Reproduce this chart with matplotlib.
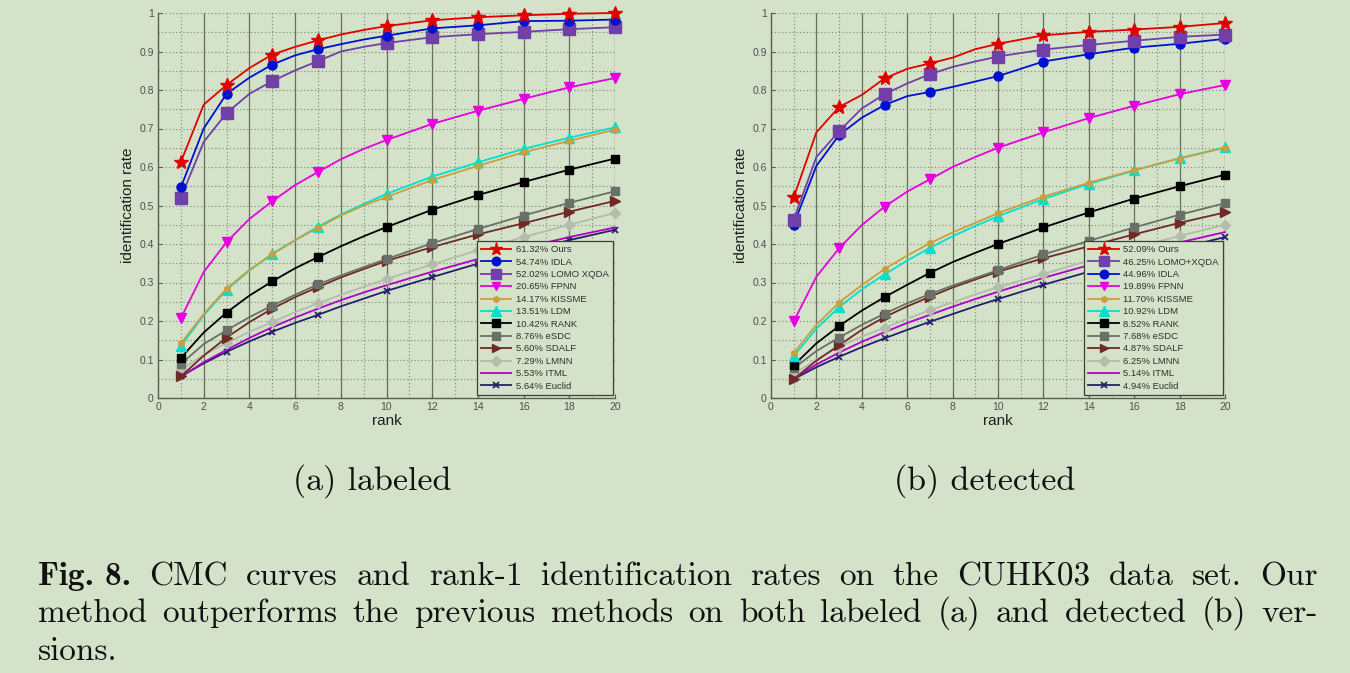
import matplotlib
matplotlib.use("Agg")
import matplotlib.pyplot as plt

# ---------------- data ----------------
ranks = [1, 2, 3, 4, 5, 6, 7, 8, 9, 10, 12, 14, 16, 18, 20]
marker_ranks = [1, 3, 5, 7, 10, 12, 14, 16, 18, 20]

# (a) labeled
ours_a   = [0.613, 0.762, 0.813, 0.857, 0.892, 0.912, 0.929, 0.944, 0.956, 0.966, 0.981, 0.989, 0.994, 0.998, 1.000]
idla_a   = [0.547, 0.700, 0.790, 0.832, 0.866, 0.890, 0.906, 0.919, 0.931, 0.941, 0.960, 0.968, 0.979, 0.980, 0.983]
lomo_a   = [0.520, 0.665, 0.740, 0.790, 0.823, 0.851, 0.875, 0.900, 0.912, 0.922, 0.937, 0.945, 0.951, 0.958, 0.963]
fpnn_a   = [0.207, 0.327, 0.405, 0.465, 0.511, 0.553, 0.587, 0.620, 0.647, 0.670, 0.712, 0.746, 0.777, 0.807, 0.831]
kissme_a = [0.142, 0.218, 0.284, 0.333, 0.373, 0.410, 0.442, 0.474, 0.500, 0.522, 0.566, 0.603, 0.638, 0.668, 0.697]
ldm_a    = [0.135, 0.215, 0.281, 0.331, 0.375, 0.410, 0.445, 0.476, 0.504, 0.530, 0.575, 0.612, 0.647, 0.676, 0.703]
rank_a   = [0.104, 0.170, 0.222, 0.266, 0.303, 0.337, 0.366, 0.394, 0.420, 0.444, 0.489, 0.527, 0.561, 0.593, 0.622]
esdc_a   = [0.088, 0.140, 0.176, 0.210, 0.240, 0.268, 0.295, 0.318, 0.340, 0.361, 0.402, 0.439, 0.474, 0.507, 0.537]
sdalf_a  = [0.056, 0.110, 0.157, 0.197, 0.232, 0.262, 0.288, 0.313, 0.335, 0.356, 0.392, 0.425, 0.454, 0.484, 0.512]
lmnn_a   = [0.073, 0.112, 0.143, 0.172, 0.197, 0.223, 0.246, 0.268, 0.289, 0.309, 0.347, 0.384, 0.418, 0.450, 0.481]
itml_a   = [0.055, 0.093, 0.125, 0.156, 0.184, 0.209, 0.232, 0.254, 0.274, 0.293, 0.328, 0.361, 0.390, 0.418, 0.443]
eucl_a   = [0.056, 0.090, 0.120, 0.147, 0.172, 0.195, 0.216, 0.238, 0.258, 0.278, 0.314, 0.349, 0.380, 0.410, 0.437]

# (b) detected
ours_b   = [0.521, 0.690, 0.756, 0.787, 0.830, 0.855, 0.869, 0.884, 0.906, 0.920, 0.942, 0.951, 0.957, 0.964, 0.974]
lomo_b   = [0.463, 0.626, 0.693, 0.752, 0.789, 0.817, 0.841, 0.860, 0.874, 0.887, 0.905, 0.917, 0.928, 0.938, 0.944]
idla_b   = [0.450, 0.603, 0.683, 0.728, 0.761, 0.784, 0.795, 0.808, 0.822, 0.836, 0.874, 0.893, 0.910, 0.920, 0.933]
fpnn_b   = [0.199, 0.315, 0.389, 0.449, 0.497, 0.536, 0.568, 0.600, 0.626, 0.650, 0.690, 0.727, 0.759, 0.789, 0.813]
kissme_b = [0.117, 0.190, 0.248, 0.293, 0.335, 0.370, 0.402, 0.430, 0.455, 0.480, 0.523, 0.559, 0.592, 0.622, 0.650]
ldm_b    = [0.109, 0.180, 0.236, 0.282, 0.321, 0.357, 0.390, 0.420, 0.447, 0.472, 0.517, 0.556, 0.591, 0.623, 0.651]
rank_b   = [0.085, 0.142, 0.187, 0.227, 0.262, 0.294, 0.325, 0.353, 0.377, 0.400, 0.443, 0.482, 0.518, 0.550, 0.580]
esdc_b   = [0.077, 0.122, 0.157, 0.190, 0.219, 0.246, 0.270, 0.292, 0.312, 0.332, 0.373, 0.408, 0.443, 0.476, 0.506]
sdalf_b  = [0.049, 0.097, 0.137, 0.177, 0.210, 0.238, 0.263, 0.287, 0.308, 0.328, 0.363, 0.394, 0.425, 0.455, 0.482]
lmnn_b   = [0.062, 0.100, 0.133, 0.160, 0.182, 0.206, 0.228, 0.249, 0.269, 0.288, 0.322, 0.357, 0.390, 0.421, 0.450]
itml_b   = [0.051, 0.087, 0.118, 0.146, 0.171, 0.195, 0.216, 0.237, 0.257, 0.276, 0.312, 0.345, 0.375, 0.404, 0.431]
eucl_b   = [0.049, 0.080, 0.107, 0.132, 0.155, 0.177, 0.198, 0.218, 0.238, 0.257, 0.294, 0.328, 0.360, 0.389, 0.418]

labels_a = ["61.32% Ours", "54.74% IDLA", "52.02% LOMO XQDA", "20.65% FPNN", "14.17% KISSME",
            "13.51% LDM", "10.42% RANK", "8.76% eSDC", "5.60% SDALF", "7.29% LMNN",
            "5.53% ITML", "5.64% Euclid"]
labels_b = ["52.09% Ours", "46.25% LOMO+XQDA", "44.96% IDLA", "19.89% FPNN", "11.70% KISSME",
            "10.92% LDM", "8.52% RANK", "7.68% eSDC", "4.87% SDALF", "6.25% LMNN",
            "5.14% ITML", "4.94% Euclid"]

series_a = [ours_a, idla_a, lomo_a, fpnn_a, kissme_a, ldm_a, rank_a, esdc_a, sdalf_a, lmnn_a, itml_a, eucl_a]
series_b = [ours_b, lomo_b, idla_b, fpnn_b, kissme_b, ldm_b, rank_b, esdc_b, sdalf_b, lmnn_b, itml_b, eucl_b]

# styles per method
STY = {
    "Ours":   dict(color="#e00000", marker="*", ms=10),
    "IDLA":   dict(color="#0010d0", marker="o", ms=6.5),
    "LOMO":   dict(color="#7040a8", marker="s", ms=8),
    "FPNN":   dict(color="#e600e0", marker="v", ms=6.5),
    "KISSME": dict(color="#c8a040", marker="h", ms=4.5),
    "LDM":    dict(color="#00e0d0", marker="^", ms=7),
    "RANK":   dict(color="#000000", marker="s", ms=6),
    "eSDC":   dict(color="#687068", marker="s", ms=6),
    "SDALF":  dict(color="#702828", marker=">", ms=6.5),
    "LMNN":   dict(color="#b4bcac", marker="D", ms=5.5),
    "ITML":   dict(color="#b000c8", marker=None, ms=0),
    "Euclid": dict(color="#281e6e", marker="x", ms=5),
}
keys_a = ["Ours", "IDLA", "LOMO", "FPNN", "KISSME", "LDM", "RANK", "eSDC", "SDALF", "LMNN", "ITML", "Euclid"]
keys_b = ["Ours", "LOMO", "IDLA", "FPNN", "KISSME", "LDM", "RANK", "eSDC", "SDALF", "LMNN", "ITML", "Euclid"]

BG = "#d3e2c8"
plt.rcParams["font.family"] = ["Liberation Sans", "DejaVu Sans"]

fig = plt.figure(figsize=(13.5, 6.73), dpi=100, facecolor=BG)

def draw_panel(rect, series, labels, keys):
    ax = fig.add_axes(rect)
    ax.set_facecolor(BG)
    ax.set_xlim(0, 20)
    ax.set_ylim(0, 1)
    # grid
    for x in range(1, 21):
        if x % 2 == 0:
            ax.axvline(x, color="#66705e", lw=0.9, zorder=0.5)
        else:
            ax.axvline(x, color="#7c8474", lw=0.8, ls=(0, (1, 2.2)), zorder=0.5)
    for i in range(1, 21):
        y = i * 0.05
        ax.axhline(y, color="#7c8474", lw=0.8, ls=(0, (1, 2.2)), zorder=0.5)
    ax.spines["top"].set_visible(False)
    ax.spines["right"].set_visible(False)
    for s in ("left", "bottom"):
        ax.spines[s].set_color("#5a5f56")
        ax.spines[s].set_linewidth(1.0)
    ax.set_xticks(range(0, 21, 2))
    ax.set_yticks([i / 10 for i in range(11)])
    ax.set_yticklabels(["0"] + ["%.1f" % (i / 10) for i in range(1, 10)] + ["1"])
    ax.tick_params(direction="in", length=3, labelsize=7.5, colors="#5a5f56",
                   labelcolor="#505050", pad=3)
    ax.set_xlabel("rank", fontsize=11, color="#202020", labelpad=1)
    ax.set_ylabel("identification rate", fontsize=11, color="#202020", labelpad=3)

    mk_idx = [ranks.index(r) for r in marker_ranks]
    handles = []
    n = len(series)
    for i, (vals, lab, k) in enumerate(zip(series, labels, keys)):
        st = STY[k]
        kw = dict(color=st["color"], lw=1.3, zorder=10 + (n - i))
        if st["marker"]:
            kw.update(marker=st["marker"], ms=st["ms"], markevery=mk_idx,
                      mfc=st["color"], mec=st["color"])
            if st["marker"] == "x":
                kw.update(mew=1.3)
        ln, = ax.plot(ranks, vals, label=lab, clip_on=False, **kw)
        handles.append(ln)
    leg = ax.legend(handles=handles, loc="lower right", bbox_to_anchor=(0.996, 0.008),
                    borderaxespad=0, fontsize=6.8, frameon=True, fancybox=False,
                    handlelength=3.2, handletextpad=0.5, labelspacing=0.36,
                    borderpad=0.45, markerscale=0.95)
    leg.get_frame().set_facecolor(BG)
    leg.get_frame().set_edgecolor("#3c4038")
    leg.get_frame().set_linewidth(0.9)
    leg.get_frame().set_alpha(1)
    leg.set_zorder(50)
    for t in leg.get_texts():
        t.set_color("#303030")
    return ax

ax1 = draw_panel([158 / 1350, 1 - 398 / 673, 457 / 1350, 385 / 673], series_a, labels_a, keys_a)
ax2 = draw_panel([771 / 1350, 1 - 398 / 673, 454 / 1350, 385 / 673], series_b, labels_b, keys_b)

# ---------------- captions ----------------
REG = "cmr10"
BOLD = "cmb10"
W, H = 1350, 673

fig.text(372 / W, 1 - 490 / H, "(a) labeled", family=REG, fontsize=24.5, ha="center", va="baseline", color="#111111")
fig.text(985 / W, 1 - 490 / H, "(b) detected", family=REG, fontsize=24.5, ha="center", va="baseline", color="#111111")

renderer = fig.canvas.get_renderer()

def justify(tokens, ybase, x0=38, x1=1318, justify_line=True, size=24):
    objs = []
    widths = []
    for word, fam in tokens:
        t = fig.text(0, 1 - ybase / H, word, family=fam, fontsize=size, ha="left",
                     va="baseline", color="#111111")
        widths.append(t.get_window_extent(renderer).width)
        objs.append(t)
    total = sum(widths)
    if justify_line and len(tokens) > 1:
        gap = (x1 - x0 - total) / (len(tokens) - 1)
    else:
        gap = size * 100 / 72 * 0.33
    x = x0
    for t, w in zip(objs, widths):
        t.set_x(x / W)
        x += w + gap

line1 = [("Fig. 8.", BOLD)] + [(w, REG) for w in
         "CMC curves and rank-1 identification rates on the CUHK03 data set. Our".split()]
line2 = [(w, REG) for w in
         "method outperforms the previous methods on both labeled (a) and detected (b) ver-".split()]
line3 = [("sions.", REG)]

justify(line1, 585)
justify(line2, 622)
justify(line3, 660, justify_line=False)

fig.savefig("out.png", dpi=100, facecolor=BG)
